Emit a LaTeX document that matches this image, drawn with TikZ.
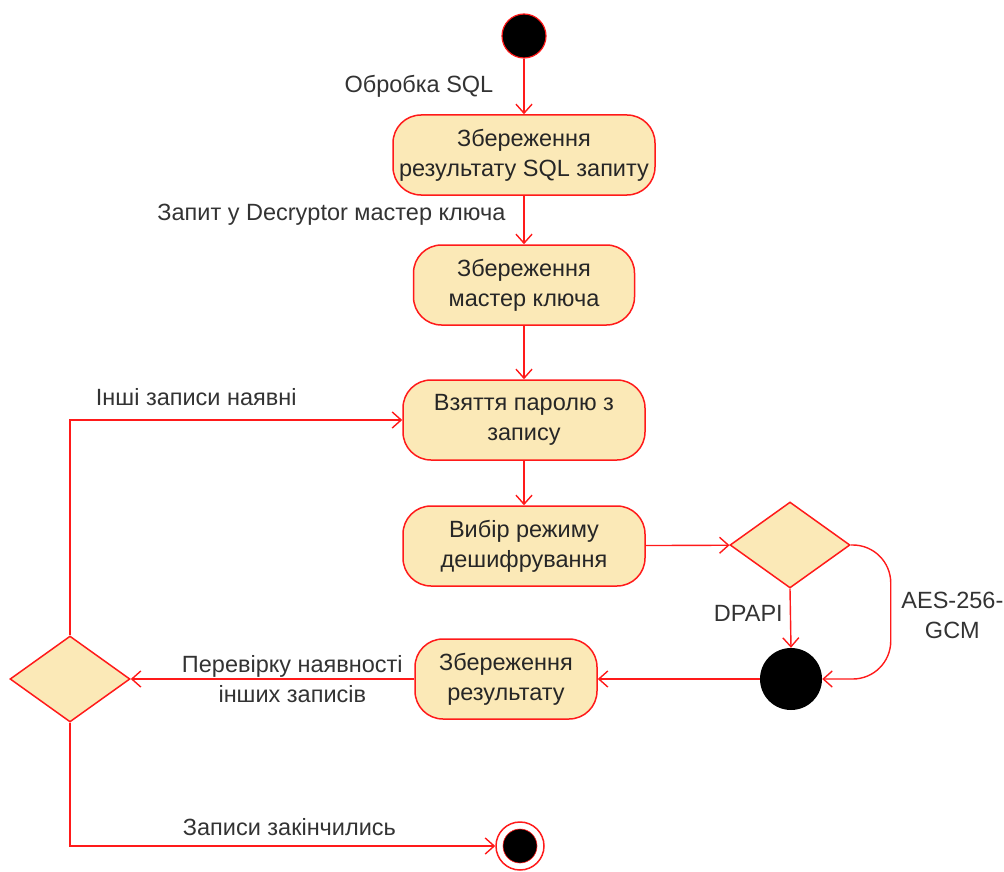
\documentclass[tikz,border=0pt]{standalone}
\usepackage{fontspec}
\setmainfont{Liberation Sans}
\usetikzlibrary{arrows.meta,shapes.geometric}
\definecolor{actfill}{HTML}{FBE9B7}
\definecolor{actline}{HTML}{FF1A1A}
\definecolor{lblgray}{HTML}{333333}
\begin{document}
\begin{tikzpicture}[x=1pt,y=-1pt,
  font=\fontsize{23.5}{30}\selectfont,
  activity/.style={draw=actline, fill=actfill, line width=1.5pt,
    rounded corners=28pt, minimum height=80pt, align=center,
    inner sep=0pt, text=black!85},
  decision/.style={diamond, draw=actline, fill=actfill, line width=1.5pt,
    minimum width=120pt, minimum height=86pt, inner sep=0pt},
  flow/.style={draw=actline, line width=1.4pt,
    -{Straight Barb[length=9pt,width=16pt,line width=1.4pt]}},
  lbl/.style={text=lblgray, align=center, inner sep=0pt}
]
\useasboundingbox (0,0) rectangle (1004,872);

% start and end markers
\node[circle, draw=actline, fill=black, line width=1.2pt, minimum size=44pt, inner sep=0pt] (start) at (524,36) {};
\node[circle, draw=actline, fill=white, line width=1.5pt, minimum size=48pt, inner sep=0pt] (end) at (520,846) {};
\node[circle, draw=actline, fill=black, line width=0.6pt, minimum size=34pt, inner sep=0pt] (endin) at (end) {};

% activities
\node[activity, minimum width=262pt] (store1) at (524,155) {Збереження\\результату SQL запиту};
\node[activity, minimum width=221pt] (store2) at (524,285) {Збереження\\мастер ключа};
\node[activity, minimum width=242pt] (take) at (524,420) {Взяття паролю з\\запису};
\node[activity, minimum width=242pt] (mode) at (524,546) {Вибір режиму\\дешифрування};
\node[activity, minimum width=182pt] (store3) at (506,679) {Збереження\\результату};

% decisions and merge
\node[decision] (choice) at (790,545) {};
\node[circle, fill=black, minimum size=62pt, inner sep=0pt] (join) at (791,679) {};
\node[decision] (check) at (70,679) {};

% flows
\draw[flow] (start) -- node[lbl, anchor=east, pos=0.5, xshift=-30pt] {Обробка SQL} (store1);
\draw[flow] (store1) -- node[lbl, anchor=east, pos=0.4, xshift=-18pt] {Запит у Decryptor мастер ключа} (store2);
\draw[flow] (store2) -- (take);
\draw[flow] (take) -- (mode);
\draw[flow] (mode) -- (choice);
\draw[flow] (choice.south) -- node[lbl, anchor=east, pos=0.42, xshift=-7pt] {DPAPI} (join.north);
\draw[flow, rounded corners=38pt] (choice.east) -- ++(40,0) |- node[lbl, pos=0.25, anchor=west, xshift=10pt, yshift=-3pt] {AES-256-\\GCM} (join.east);
\draw[flow] (join) -- (store3);
\draw[flow] (store3) -- node[lbl, pos=0.43] {Перевірку наявності\\інших записів} (check.east);
\draw[flow] (check.north) |- node[lbl, pos=0.69, yshift=23pt] {Інші записи наявні} (take.west);
\draw[flow] (check.south) |- node[lbl, pos=0.758, yshift=19pt] {Записи закінчились} (end.west);
\end{tikzpicture}
\end{document}
